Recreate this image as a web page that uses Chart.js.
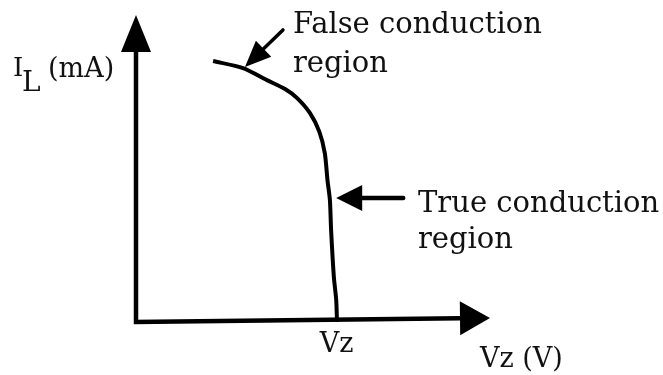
<!DOCTYPE html>
<html>
<head>
<meta charset="utf-8">
<script src="https://cdn.jsdelivr.net/npm/chart.js@4.4.0/dist/chart.umd.min.js"></script>
<style>
  html, body { margin: 0; padding: 0; background: #fff; }
  canvas { display: block; }
</style>
</head>
<body>
<canvas id="myChart" width="663" height="375"></canvas>
<script>
const vzValues = [1.96, 2.72, 3.33, 3.79, 4.09, 4.42, 4.66, 4.80, 4.87, 4.93, 4.96, 5.03, 5.09, 5.11];
const ilValues = [8.50, 8.27, 7.88, 7.59, 7.30, 6.81, 6.20, 5.50, 4.60, 3.97, 3.00, 1.47, 0.72, 0];
const vzTick = 5.1;
const vzTickLabel = 'Vz';
const xTitle = 'Vz (V)';
const yTitle = ['I', 'L', '(mA)'];
const falseLabel = ['False conduction', 'region'];
const trueLabel = ['True conduction', 'region'];
const falsePoint = [2.77, 8.31];
const truePoint = [5.09, 4.04];

const INK = '#111';
const FONT = '"DejaVu Serif", serif';

function arrow(ctx, x1, y1, x2, y2, headLen, headHalf, lw) {
  const a = Math.atan2(y2 - y1, x2 - x1);
  const bx = x2 - headLen * Math.cos(a), by = y2 - headLen * Math.sin(a);
  ctx.lineWidth = lw;
  ctx.beginPath();
  ctx.moveTo(x1, y1);
  ctx.lineTo(bx, by);
  ctx.stroke();
  ctx.beginPath();
  ctx.moveTo(x2, y2);
  ctx.lineTo(bx + headHalf * Math.sin(a), by - headHalf * Math.cos(a));
  ctx.lineTo(bx - headHalf * Math.sin(a), by + headHalf * Math.cos(a));
  ctx.closePath();
  ctx.fill();
}

const sketch = {
  id: 'sketch',
  beforeDatasetsDraw(chart) {
    const { ctx, scales: { x, y } } = chart;
    const ox = x.getPixelForValue(0), oy = y.getPixelForValue(0);
    ctx.save();
    ctx.strokeStyle = '#000';
    ctx.fillStyle = '#000';
    ctx.lineCap = 'butt';
    arrow(ctx, ox, oy + 2, ox, y.getPixelForValue(10), 37, 15, 4.5);
    arrow(ctx, ox - 2, oy, x.getPixelForValue(9), oy - 4, 30, 17, 4.5);
    ctx.restore();
  },
  afterDraw(chart) {
    const { ctx, scales: { x, y } } = chart;
    ctx.save();
    ctx.fillStyle = '#000';
    ctx.strokeStyle = '#000';
    ctx.lineCap = 'round';
    // false conduction pointer
    const fx = x.getPixelForValue(falsePoint[0]), fy = y.getPixelForValue(falsePoint[1]);
    arrow(ctx, fx + 38, fy - 37, fx, fy, 26, 11, 3.5);
    // true conduction pointer
    const tx = x.getPixelForValue(truePoint[0]), ty = y.getPixelForValue(truePoint[1]);
    arrow(ctx, tx + 67, ty, tx, ty, 26, 13, 4.5);

    ctx.fillStyle = INK;
    ctx.textAlign = 'left';
    ctx.textBaseline = 'alphabetic';
    ctx.font = '29px ' + FONT;
    ctx.fillText(falseLabel[0], 293, 33);
    ctx.fillText(falseLabel[1], 293, 72);
    ctx.fillText(trueLabel[0], 418, 212);
    ctx.fillText(trueLabel[1], 418, 248);

    ctx.font = '26px ' + FONT;
    ctx.fillText(yTitle[0], 13, 76);
    ctx.font = '28px ' + FONT;
    ctx.fillText(yTitle[1], 22, 91);
    ctx.font = '27px ' + FONT;
    ctx.fillText(yTitle[2], 48, 77);

    ctx.font = '27px ' + FONT;
    ctx.textAlign = 'center';
    ctx.fillText(vzTickLabel, x.getPixelForValue(vzTick), 352);
    ctx.textAlign = 'left';
    ctx.fillText(xTitle, 480, 367);
    ctx.restore();
  }
};

new Chart(document.getElementById('myChart'), {
  type: 'scatter',
  data: {
    datasets: [{
      data: vzValues.map((v, i) => ({ x: v, y: ilValues[i] })),
      showLine: true,
      borderColor: '#000',
      borderWidth: 4,
      pointRadius: 0,
      tension: 0.25,
      clip: false
    }]
  },
  options: {
    responsive: false,
    animation: false,
    layout: { padding: { left: 136, right: 173, top: 15, bottom: 53 } },
    plugins: { legend: { display: false }, tooltip: { enabled: false } },
    scales: {
      x: { type: 'linear', min: 0, max: 9, display: false },
      y: { type: 'linear', min: 0, max: 10, display: false }
    }
  },
  plugins: [sketch]
});
</script>
</body>
</html>
